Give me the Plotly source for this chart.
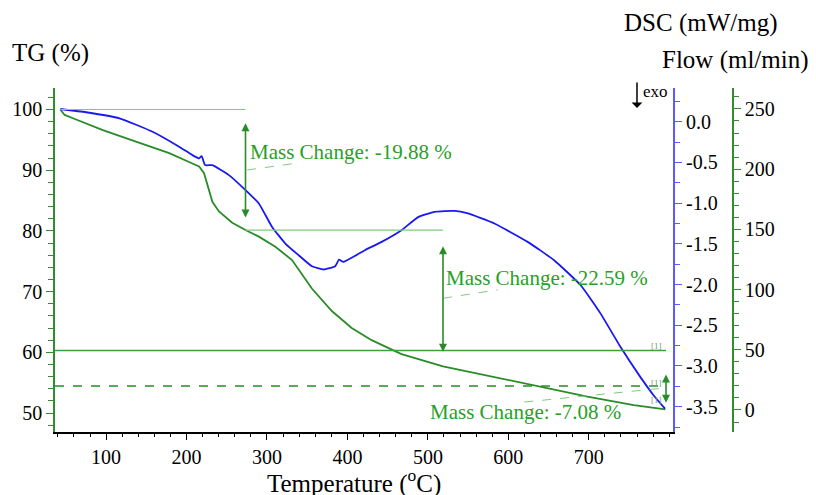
import plotly.graph_objects as go

# ---------------- data ----------------
temp_tg = [43.1, 48.5, 58.8, 96.0, 137.1, 178.5, 207.3, 215.6, 221.8, 225.9, 232.1, 240.3,
           256.8, 273.3, 289.9, 310.4, 331.1, 355.8, 380.6, 405.3, 430.1, 448.6, 467.2,
           518.8, 591.5, 644.6, 698.3, 755.9, 795.2]
tg = [100.0, 99.1, 98.55, 96.6, 94.7, 92.8, 91.1, 90.6, 89.5, 87.6, 84.8, 83.2,
      81.35, 80.15, 79.05, 77.4, 75.2, 70.5, 66.8, 64.0, 62.0, 60.85, 59.7,
      57.7, 55.7, 54.3, 52.7, 51.3, 50.6]

temp_dsc = [43.1, 75.2, 116.6, 157.8, 190.8, 207.3, 215.6, 218.8, 223.0, 232.1, 252.7,
            273.3, 289.9, 306.3, 322.8, 339.4, 355.8, 370.3, 384.7, 389.6, 395.0, 421.8,
            442.5, 467.2, 487.9, 508.4, 533.2, 549.8, 582.7, 624.0, 656.9, 690.0, 714.7,
            739.5, 764.2, 780.7, 794.8]
dsc = [0.156, 0.116, 0.042, -0.123, -0.307, -0.410, -0.450, -0.422, -0.533, -0.533, -0.656,
       -0.840, -1.004, -1.292, -1.496, -1.640, -1.775, -1.815, -1.775, -1.693, -1.722, -1.578,
       -1.476, -1.332, -1.172, -1.107, -1.095, -1.127, -1.250, -1.476, -1.701, -2.009, -2.357,
       -2.768, -3.137, -3.362, -3.525]

# flow signal is not drawn in the reference (only its axis)
temp_flow = []
flow = []

x_ticks = [100, 200, 300, 400, 500, 600, 700]
tg_ticks = [50, 60, 70, 80, 90, 100]
dsc_ticks = [0.0, -0.5, -1.0, -1.5, -2.0, -2.5, -3.0, -3.5]
dsc_ticktext = ["0.0", "-0.5", "-1.0", "-1.5", "-2.0", "-2.5", "-3.0", "-3.5"]
flow_ticks = [0, 50, 100, 150, 200, 250]

# mass change evaluation marks (TG units)
mc_labels = ["Mass Change: -19.88 %", "Mass Change: -22.59 %", "Mass Change: -7.08 %"]
mc_label_temp = [276.7, 520.2, 500.0]
mc_label_tg = [93.0, 72.2, 50.2]
mc_arrow_temp = [273.3, 518.8, 796.0]
mc_arrow_top = [98.0, 77.7, 56.6]
mc_arrow_bottom = [82.2, 60.1, 51.7]
mc_leader_temp = [(275.4, 341.3), (518.8, 586.9), (619.8, 792.7)]
mc_leader_tg = [(90.03, 91.24), (68.9, 70.3), (51.8, 54.1)]
level_start = [43.1, 273.3, 36.5, 36.5]
level_end = [273.3, 518.8, 796.0, 796.0]
level_tg = [100.0, 80.12, 60.3, 54.45]
marker_tg = [61.0, 55.0, 52.2]

# ---------------- styling ----------------
FONT = "Times New Roman, Liberation Serif, Times, serif"
GREEN = "rgb(40,140,40)"
AX_GREEN = "rgb(50,140,50)"
TXT_GREEN = "rgb(40,160,40)"
LIGHT_GREEN = "rgb(130,200,130)"
BLUE = "rgb(25,25,240)"
AX_BLUE = "rgb(90,90,255)"

W, H = 816, 495
ML, MR, MT, MB = 52, 64, 88, 63
PW = W - ML - MR
PH = H - MT - MB


def px(x):
    return (x - ML) / PW


def py(y):
    return (H - MB - y) / PH


fig = go.Figure()
fig.add_trace(go.Scatter(x=temp_tg, y=tg, mode="lines", line=dict(color=GREEN, width=1.8),
                         yaxis="y", showlegend=False, hoverinfo="skip"))
fig.add_trace(go.Scatter(x=temp_dsc, y=dsc, mode="lines",
                         line=dict(color=BLUE, width=1.8, shape="spline", smoothing=0.4),
                         yaxis="y2", showlegend=False, hoverinfo="skip"))
fig.add_trace(go.Scatter(x=temp_flow, y=flow, mode="lines", line=dict(color=GREEN, width=1.5),
                         yaxis="y3", showlegend=False, hoverinfo="skip"))

shapes = []
styles = [dict(color=LIGHT_GREEN, width=1.2), dict(color=LIGHT_GREEN, width=1.2),
          dict(color="rgb(60,160,60)", width=1.3), dict(color=GREEN, width=1.6, dash="dash")]
for x0, x1, yv, st in zip(level_start, level_end, level_tg, styles):
    shapes.append(dict(type="line", xref="x", yref="y", x0=x0, x1=x1, y0=yv, y1=yv, line=st))
for (tx0, tx1), (ty0, ty1) in zip(mc_leader_temp, mc_leader_tg):
    shapes.append(dict(type="line", xref="x", yref="y", x0=tx0, x1=tx1, y0=ty0, y1=ty1,
                       line=dict(color=LIGHT_GREEN, width=1, dash="dash")))

annotations = []
for lab, lx, ly in zip(mc_labels, mc_label_temp, mc_label_tg):
    annotations.append(dict(x=lx, y=ly, xref="x", yref="y", text=lab, showarrow=False,
                            xanchor="left", yanchor="middle",
                            font=dict(family=FONT, size=21, color=TXT_GREEN)))
for ax_, top, bot in zip(mc_arrow_temp, mc_arrow_top, mc_arrow_bottom):
    annotations.append(dict(x=ax_, y=bot, ax=ax_, ay=top, xref="x", yref="y", axref="x", ayref="y",
                            text="", showarrow=True, arrowhead=2, startarrowhead=2,
                            arrowside="end+start", arrowsize=1, startarrowsize=1,
                            arrowwidth=1.6, arrowcolor=GREEN))
for mt in marker_tg:
    annotations.append(dict(x=794.0, y=mt, xref="x", yref="y", text="[1]", showarrow=False,
                            xanchor="right", yanchor="middle",
                            font=dict(family=FONT, size=9, color="rgb(110,160,110)")))

# axis titles
annotations += [
    dict(x=px(7), y=py(53), xref="paper", yref="paper", text="TG (%)", showarrow=False,
         xanchor="left", yanchor="middle", font=dict(family=FONT, size=25, color="black")),
    dict(x=px(621), y=py(23), xref="paper", yref="paper", text="DSC (mW/mg)", showarrow=False,
         xanchor="left", yanchor="middle", font=dict(family=FONT, size=25, color="black")),
    dict(x=px(660), y=py(60), xref="paper", yref="paper", text="Flow (ml/min)", showarrow=False,
         xanchor="left", yanchor="middle", font=dict(family=FONT, size=25, color="black")),
    dict(x=px(641), y=py(91), xref="paper", yref="paper", text="exo", showarrow=False,
         xanchor="left", yanchor="middle", font=dict(family=FONT, size=17, color="black")),
    dict(x=px(636.5), y=py(108), xref="paper", yref="paper", text="", showarrow=True,
         ax=0, ay=-27, arrowhead=1, arrowsize=1.2, arrowwidth=1.5, arrowcolor="black"),
    dict(x=px(352), y=py(481), xref="paper", yref="paper",
         text="Temperature (<sup>o</sup>C)", showarrow=False,
         xanchor="center", yanchor="middle", font=dict(family=FONT, size=25, color="black")),
]

x_end = (673 - ML) / PW
flow_pos = (733 - ML) / PW

tickfont = dict(family=FONT, size=20, color="black")

fig.update_layout(
    width=W, height=H, autosize=False,
    margin=dict(l=ML, r=MR, t=MT, b=MB, pad=0),
    plot_bgcolor="white", paper_bgcolor="white",
    showlegend=False,
    font=dict(family=FONT),
    xaxis=dict(domain=[0, x_end], range=[36.5, 805.1], showgrid=False, zeroline=False,
               showline=True, linecolor="black", linewidth=1.5,
               ticks="outside", ticklen=6, tickwidth=1.2, tickcolor="black",
               tickmode="array", tickvals=x_ticks, tickfont=tickfont,
               minor=dict(tickmode="array", tickvals=list(range(40, 801, 20)),
                          ticks="outside", ticklen=3, tickwidth=1, tickcolor="black"),
               anchor="y"),
    yaxis=dict(range=[46.87, 103.54], showgrid=False, zeroline=False,
               showline=True, linecolor=AX_GREEN, linewidth=1.5,
               ticks="outside", ticklen=7, tickwidth=1.3, tickcolor=AX_GREEN,
               tickmode="array", tickvals=tg_ticks, tickfont=tickfont,
               minor=dict(tickmode="array", tickvals=list(range(48, 103, 2)),
                          ticks="outside", ticklen=5, tickwidth=1, tickcolor=AX_GREEN),
               anchor="x"),
    yaxis2=dict(range=[-3.811, 0.414], overlaying="y", side="right", anchor="x",
                showgrid=False, zeroline=False,
                showline=True, linecolor=AX_BLUE, linewidth=1.5,
                ticks="outside", ticklen=7, tickwidth=1.3, tickcolor=AX_BLUE,
                tickmode="array", tickvals=dsc_ticks, ticktext=dsc_ticktext, tickfont=tickfont,
                minor=dict(tickmode="array", tickvals=[-3.75 + 0.5 * i for i in range(9)],
                           ticks="outside", ticklen=5, tickwidth=1, tickcolor=AX_BLUE)),
    yaxis3=dict(range=[-18.3, 267.4], overlaying="y", side="right", anchor="free",
                position=flow_pos, showgrid=False, zeroline=False,
                showline=True, linecolor=AX_GREEN, linewidth=1.5,
                ticks="outside", ticklen=7, tickwidth=1.3, tickcolor=AX_GREEN,
                tickmode="array", tickvals=flow_ticks, tickfont=tickfont,
                minor=dict(tickmode="array", tickvals=list(range(-10, 261, 10)),
                           ticks="outside", ticklen=5, tickwidth=1, tickcolor=AX_GREEN)),
    shapes=shapes,
    annotations=annotations,
)

fig.write_html("out.html")
